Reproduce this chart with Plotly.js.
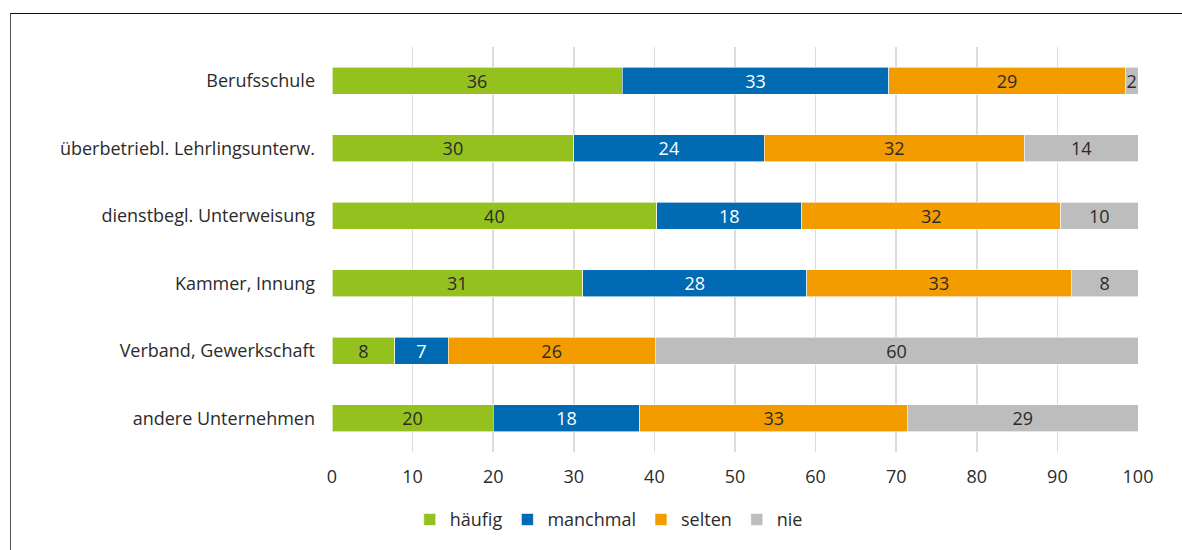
<!DOCTYPE html>
<html>
<head>
<meta charset="utf-8">
<script src="https://cdn.plot.ly/plotly-3.0.1.min.js"></script>
<style>
  html, body { margin: 0; padding: 0; background: #fff; overflow: hidden; }
  #chart { width: 1182px; height: 550px; position: relative; }
  #frame { position: absolute; left: 10px; top: 13px; width: 1200px; height: 600px;
           border-top: 1.5px solid #111; border-left: 1.5px solid #555; pointer-events: none; z-index: 5; }
</style>
</head>
<body>
<div id="chart"></div>
<div id="frame"></div>
<script>
const categories = ["Berufsschule", "überbetriebl. Lehrlingsunterw.", "dienstbegl. Unterweisung", "Kammer, Innung", "Verband, Gewerkschaft", "andere Unternehmen"];
const haeufig  = [36.0, 30.0, 40.3, 31.1, 7.8, 20.0];
const manchmal = [33.1, 23.6, 18.0, 27.8, 6.6, 18.2];
const selten   = [29.3, 32.3, 32.1, 32.8, 25.7, 33.2];
const nie      = [1.6, 14.1, 9.6, 8.3, 59.9, 28.6];
const seriesNames = ["häufig", "manchmal", "selten", "nie"];
const xTicks = [0, 10, 20, 30, 40, 50, 60, 70, 80, 90, 100];

const colors = ["#95c11f", "#006ab3", "#f39c00", "#bdbdbd"];
const textColors = ["#2b2b2b", "#ffffff", "#2b2b2b", "#2b2b2b"];
const FONT = "'Open Sans', 'Noto Sans', sans-serif";
const FS = 18;

const data = [haeufig, manchmal, selten, nie].map((vals, i) => ({
  type: "bar",
  orientation: "h",
  name: seriesNames[i],
  y: categories,
  x: vals,
  marker: { color: colors[i], line: { color: "#ffffff", width: 0.6 } },
  texttemplate: "%{x:.0f}",
  textposition: "inside",
  insidetextanchor: "middle",
  textangle: 0,
  constraintext: "none",
  insidetextfont: { family: FONT, size: FS, color: textColors[i] },
  hoverinfo: "skip"
}));

const layout = {
  width: 1182,
  height: 550,
  margin: { l: 332, r: 44, t: 47, b: 98, pad: 0 },
  paper_bgcolor: "#ffffff",
  plot_bgcolor: "#ffffff",
  barmode: "stack",
  bargap: 0.6,
  font: { family: FONT, size: FS, color: "#2b2b2b" },
  xaxis: {
    range: [0, 100],
    tickvals: xTicks,
    ticktext: xTicks.map(String),
    showgrid: true,
    gridcolor: "#dcdcdc",
    gridwidth: 1.5,
    zeroline: false,
    showline: false,
    ticks: "outside",
    ticklen: 8,
    tickcolor: "rgba(0,0,0,0)",
    tickfont: { family: FONT, size: FS, color: "#2b2b2b" },
    fixedrange: true
  },
  yaxis: {
    autorange: "reversed",
    showgrid: false,
    zeroline: false,
    showline: false,
    ticks: "",
    ticklabelstandoff: 16,
    tickfont: { family: FONT, size: FS, color: "#2b2b2b" },
    fixedrange: true
  },
  showlegend: true,
  legend: {
    orientation: "h",
    xref: "container",
    yref: "container",
    x: 0.515,
    xanchor: "center",
    y: 0.055,
    yanchor: "middle",
    font: { family: FONT, size: FS, color: "#2b2b2b" },
    itemwidth: 30,
    traceorder: "normal",
    itemclick: false,
    itemdoubleclick: false
  }
};

Plotly.newPlot("chart", data, layout, { displayModeBar: false, staticPlot: true });
</script>
</body>
</html>
